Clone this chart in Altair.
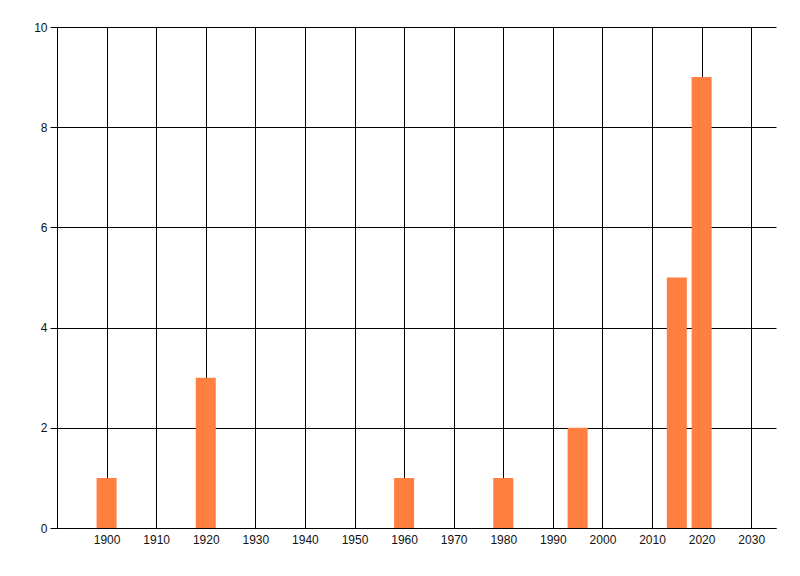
import altair as alt
import pandas as pd

years = [1900, 1920, 1960, 1980, 1995, 2015, 2020]
counts = [1, 3, 1, 1, 2, 5, 9]
x_ticks = [1900, 1910, 1920, 1930, 1940, 1950, 1960, 1970, 1980, 1990, 2000, 2010, 2020, 2030]
y_ticks = [0, 2, 4, 6, 8, 10]

df = pd.DataFrame({"year": years, "count": counts})

chart = alt.Chart(df).mark_bar(size=20, color="#FF7F40").encode(
    x=alt.X("year:Q", scale=alt.Scale(domain=[1890, 2035], nice=False, zero=False, padding=0),
            axis=alt.Axis(values=x_ticks, title=None, format="d", grid=True, gridColor="black",
                          gridOpacity=1, ticks=False, domainColor="black", labelColor="#111",
                          labelFont="Liberation Sans", labelFontSize=12, labelPadding=6)),
    y=alt.Y("count:Q", scale=alt.Scale(domain=[0, 10], nice=False, padding=0),
            axis=alt.Axis(values=y_ticks, title=None, grid=True, gridColor="black", gridOpacity=1,
                          tickColor="black", tickSize=7, domainColor="black", labelColor="#111",
                          labelFont="Liberation Sans", labelFontSize=12, labelPadding=3)),
).properties(
    width=719, height=501,
    autosize=alt.AutoSizeParams(type="none"),
    padding={"left": 49, "top": 19, "right": 10, "bottom": 30},
).configure_view(stroke=None)

chart.save("out.html", embed_options={"renderer": "svg", "actions": False})
